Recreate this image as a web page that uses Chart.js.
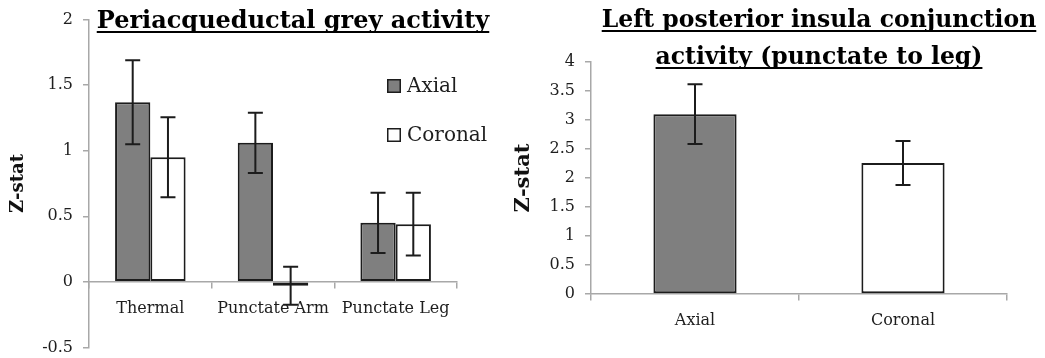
<!DOCTYPE html>
<html>
<head>
<meta charset="utf-8">
<script src="https://cdn.jsdelivr.net/npm/chart.js@4/dist/chart.umd.min.js"></script>
<style>
  html, body { margin: 0; padding: 0; background: #ffffff; }
  #wrap { position: relative; width: 1045px; height: 358px; overflow: hidden; }
  #pag { position: absolute; left: 0; top: 0; }
  #insula { position: absolute; left: 510px; top: 0; }
</style>
</head>
<body>
<div id="wrap">
  <canvas id="pag" width="510" height="367"></canvas>
  <canvas id="insula" width="535" height="358"></canvas>
</div>
<script>
// Periacqueductal grey panel
const pagTitle = ['Periacqueductal grey activity'];
const pagCategories = ['Thermal', 'Punctate Arm', 'Punctate Leg'];
const pagAxial = [1.37, 1.06, 0.45];
const pagAxialErr = [0.32, 0.23, 0.23];
const pagCoronal = [0.95, -0.03, 0.44];
const pagCoronalErr = [0.305, 0.145, 0.24];
const pagTicks = [-0.5, 0, 0.5, 1, 1.5, 2];

// Left posterior insula panel
const insulaTitle = ['Left posterior insula conjunction', 'activity (punctate to leg)'];
const insulaCategories = ['Axial', 'Coronal'];
const insulaValues = [3.10, 2.26];
const insulaErr = [0.515, 0.38];
const insulaTicks = [0, 0.5, 1, 1.5, 2, 2.5, 3, 3.5, 4];

const seriesNames = ['Axial', 'Coronal'];
const yTitle = 'Z-stat';

const GREY = '#7f7f7f';
const WHITE = '#ffffff';
const EDGE = '#1c1c1c';
const AXIS = '#a8a8a8';
const TEXT = '#1e1e1e';
const SERIF = "'DejaVu Serif', 'Liberation Serif', serif";

Chart.defaults.font.family = SERIF;
Chart.defaults.color = TEXT;

// Bold underlined title lines
const underlinedTitle = {
  id: 'underlinedTitle',
  afterDraw(chart, args, opts) {
    const ctx = chart.ctx;
    ctx.save();
    ctx.font = opts.font;
    ctx.fillStyle = '#000';
    ctx.strokeStyle = '#000';
    ctx.textAlign = 'center';
    ctx.textBaseline = 'alphabetic';
    ctx.lineWidth = 2;
    opts.lines.forEach((t, i) => {
      const y = opts.baselines[i];
      ctx.fillText(t, opts.cx, y);
      const w = ctx.measureText(t).width;
      const uy = y + 4;
      ctx.beginPath();
      ctx.moveTo(opts.cx - w / 2, uy);
      ctx.lineTo(opts.cx + w / 2, uy);
      ctx.stroke();
    });
    ctx.restore();
  }
};

// Symmetric error bars with caps, from each dataset's "errors" list
const errorBars = {
  id: 'errorBars',
  afterDatasetsDraw(chart, args, opts) {
    const ctx = chart.ctx;
    const ys = chart.scales.y;
    const half = opts.cap / 2;
    ctx.save();
    ctx.strokeStyle = EDGE;
    ctx.lineWidth = 2;
    chart.data.datasets.forEach((ds, di) => {
      if (!ds.errors) return;
      const meta = chart.getDatasetMeta(di);
      meta.data.forEach((bar, i) => {
        const v = ds.data[i];
        const e = ds.errors[i];
        const x = bar.x;
        const yt = ys.getPixelForValue(v + e);
        const yb = ys.getPixelForValue(v - e);
        ctx.beginPath();
        ctx.moveTo(x, yt); ctx.lineTo(x, yb);
        ctx.moveTo(x - half, yt); ctx.lineTo(x + half, yt);
        ctx.moveTo(x - half, yb); ctx.lineTo(x + half, yb);
        ctx.stroke();
      });
    });
    ctx.restore();
  }
};

// Square-swatch legend placed inside the plot
const boxLegend = {
  id: 'boxLegend',
  afterDraw(chart, args, opts) {
    if (!opts.show) return;
    const ctx = chart.ctx;
    ctx.save();
    ctx.font = opts.font;
    ctx.textAlign = 'left';
    ctx.textBaseline = 'middle';
    chart.data.datasets.forEach((ds, i) => {
      const cy = opts.y + i * opts.spacing;
      ctx.fillStyle = ds.backgroundColor;
      ctx.fillRect(opts.x, cy - 7, 14, 14);
      ctx.strokeStyle = EDGE;
      ctx.lineWidth = 1.5;
      ctx.strokeRect(opts.x + 0.75, cy - 6.25, 12.5, 12.5);
      ctx.fillStyle = TEXT;
      ctx.fillText(ds.label, opts.x + 20, cy + 1);
    });
    ctx.restore();
  }
};

function axisGrid() {
  return {
    display: true,
    drawOnChartArea: false,
    drawTicks: true,
    tickLength: 6,
    color: AXIS,
    lineWidth: 1.5
  };
}

function yScale(min, max, tickList, axisWidth, titleSize, titlePad) {
  return {
    min: min,
    max: max,
    afterBuildTicks: (s) => { s.ticks = tickList.map(v => ({ value: v })); },
    afterFit: (s) => { s.width = axisWidth; },
    ticks: {
      font: { size: 16 },
      color: TEXT,
      padding: 10,
      callback: (v) => String(v)
    },
    grid: axisGrid(),
    border: { display: true, color: AXIS, width: 1.5 },
    title: {
      display: true,
      text: yTitle,
      color: '#111',
      font: { size: titleSize, weight: 'bold' },
      padding: { top: titlePad, bottom: 0 }
    }
  };
}

function xScale() {
  return {
    type: 'category',
    position: { y: 0 },
    offset: true,
    ticks: { font: { size: 16 }, color: TEXT, padding: 11, maxRotation: 0, autoSkip: false },
    grid: Object.assign(axisGrid(), { offset: true }),
    border: { display: true, color: AXIS, width: 1.5 }
  };
}

new Chart(document.getElementById('pag'), {
  type: 'bar',
  data: {
    labels: pagCategories,
    datasets: [
      {
        label: seriesNames[0], data: pagAxial, errors: pagAxialErr,
        backgroundColor: GREY, borderColor: EDGE, borderWidth: 2, borderSkipped: false,
        categoryPercentage: 0.575, barPercentage: 1.0
      },
      {
        label: seriesNames[1], data: pagCoronal, errors: pagCoronalErr,
        backgroundColor: WHITE, borderColor: EDGE, borderWidth: 2, borderSkipped: false,
        categoryPercentage: 0.575, barPercentage: 1.0
      }
    ]
  },
  options: {
    responsive: false,
    animation: false,
    events: [],
    layout: { padding: { left: 0, right: 53, top: 18, bottom: 4 } },
    scales: {
      x: xScale(),
      y: yScale(-0.5, 2, pagTicks, 89, 18, 8)
    },
    plugins: {
      legend: { display: false },
      tooltip: { enabled: false },
      underlinedTitle: { lines: pagTitle, cx: 293, baselines: [28], font: "bold 24px " + SERIF },
      errorBars: { cap: 15 },
      boxLegend: { show: true, x: 387, y: 86, spacing: 49, font: "20px " + SERIF }
    }
  },
  plugins: [underlinedTitle, errorBars, boxLegend]
});

new Chart(document.getElementById('insula'), {
  type: 'bar',
  data: {
    labels: insulaCategories,
    datasets: [
      {
        label: 'Z-stat', data: insulaValues, errors: insulaErr,
        backgroundColor: [GREY, WHITE], borderColor: EDGE, borderWidth: 2, borderSkipped: false,
        categoryPercentage: 0.4, barPercentage: 1.0
      }
    ]
  },
  options: {
    responsive: false,
    animation: false,
    events: [],
    layout: { padding: { left: 0, right: 38, top: 62, bottom: 64 } },
    scales: {
      x: xScale(),
      y: yScale(0, 4, insulaTicks, 81, 21, 1)
    },
    plugins: {
      legend: { display: false },
      tooltip: { enabled: false },
      underlinedTitle: { lines: insulaTitle, cx: 309, baselines: [27, 64], font: "bold 23.5px " + SERIF },
      errorBars: { cap: 15 },
      boxLegend: { show: false }
    }
  },
  plugins: [underlinedTitle, errorBars, boxLegend]
});
</script>
</body>
</html>
